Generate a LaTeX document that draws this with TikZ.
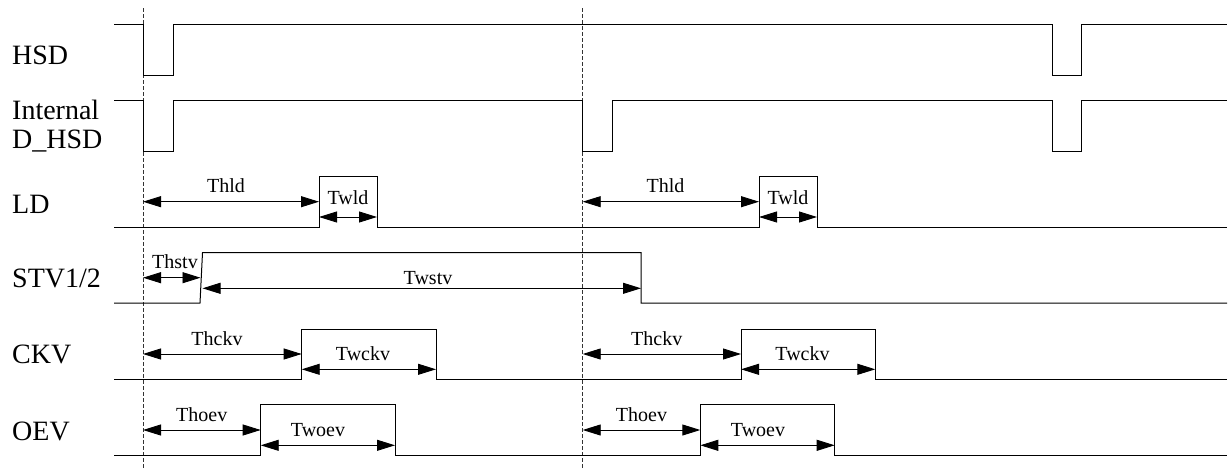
\documentclass[tikz,border=0pt]{standalone}
\usepackage{fontspec}
\setmainfont{Liberation Serif}
\usetikzlibrary{arrows.meta}

\begin{document}
\begin{tikzpicture}[
        x=1pt, y=-1pt,
        >={Triangle[length=18pt,width=11pt]},
        wave/.style={line width=1pt},
        guide/.style={line width=0.8pt, black!80, dash pattern=on 4pt off 2pt},
        dim/.style={<->, line width=0.9pt},
        siglabel/.style={anchor=base west, inner sep=0pt, font=\fontsize{28}{30}\selectfont},
        tlabel/.style={inner sep=0pt, font=\fontsize{20}{22}\selectfont}]

        \useasboundingbox (0,0) rectangle (1229,469);

        % signal names
        \node[siglabel] (hsd) at (12,64) {HSD};
        \node[siglabel] (int) at (12,119) {Internal};
        \node[siglabel] (dhsd) at (12,148) {D\_HSD};
        \node[siglabel] (ld) at (12,213) {LD};
        \node[siglabel] (stv) at (12,287) {STV1/2};
        \node[siglabel] (ckv) at (12,363) {CKV};
        \node[siglabel] (oev) at (12,440) {OEV};

        % reference lines
        \coordinate (t0) at (143,8);
        \coordinate (t1) at (582.7,8);
        \draw[guide] (t0) -- (143,469);
        \draw[guide] (t1) -- (582.7,469);

        % waveforms
        \draw[wave] (114,24) -- (143,24) -- (143,75) -- (173,75) -- (173,24) -- (1052,24)
            -- (1052,75) -- (1081,75) -- (1081,24) -- (1227,24);
        \draw[wave] (114,100) -- (143,100) -- (143,151) -- (173,151) -- (173,100) -- (582.7,100)
            -- (582.7,151) -- (612.5,151) -- (612.5,100) -- (1052,100) -- (1052,151)
            -- (1081,151) -- (1081,100) -- (1227,100);
        \draw[wave] (114,227) -- (319,227) -- (319,176) -- (377,176) -- (377,227) -- (759,227)
            -- (759,176) -- (817,176) -- (817,227) -- (1227,227);
        \draw[wave] (114,303) -- (200,303) -- (202.5,252.7) -- (641,252.7) -- (641,303) -- (1227,303);
        \draw[wave] (114,379) -- (301.7,379) -- (301.7,329) -- (436,329) -- (436,379) -- (741,379)
            -- (741,329) -- (875.3,329) -- (875.3,379) -- (1227,379);
        \draw[wave] (114,455) -- (260.7,455) -- (260.7,404.7) -- (395,404.7) -- (395,455) -- (700.3,455)
            -- (700.3,404.7) -- (834.7,404.7) -- (834.7,455) -- (1227,455);

        % arrow ends
        \coordinate (thld1a) at (143,201.7);   \coordinate (thld1b) at (319,201.7);
        \coordinate (twld1a) at (319,217);     \coordinate (twld1b) at (377,217);
        \coordinate (thld2a) at (582.7,201.7); \coordinate (thld2b) at (759,201.7);
        \coordinate (twld2a) at (759,217);     \coordinate (twld2b) at (817,217);
        \coordinate (thstva) at (143,277.7);   \coordinate (thstvb) at (200.5,277.7);
        \coordinate (twstva) at (202.5,288.3); \coordinate (twstvb) at (641,288.3);
        \coordinate (thckv1a) at (143,354);    \coordinate (thckv1b) at (301.7,354);
        \coordinate (twckv1a) at (301.7,369.3);\coordinate (twckv1b) at (436,369.3);
        \coordinate (thckv2a) at (582.7,354);  \coordinate (thckv2b) at (741,354);
        \coordinate (twckv2a) at (741,369.3);  \coordinate (twckv2b) at (875.3,369.3);
        \coordinate (thoev1a) at (143,430);    \coordinate (thoev1b) at (260.7,430);
        \coordinate (twoev1a) at (260.7,445.3);\coordinate (twoev1b) at (395,445.3);
        \coordinate (thoev2a) at (582.7,430);  \coordinate (thoev2b) at (700.3,430);
        \coordinate (twoev2a) at (700.3,445.3);\coordinate (twoev2b) at (834.7,445.3);

        \draw[dim] (thld1a) -- (thld1b);
        \draw[dim] (twld1a) -- (twld1b);
        \draw[dim] (thld2a) -- (thld2b);
        \draw[dim] (twld2a) -- (twld2b);
        \draw[dim] (thstva) -- (thstvb);
        \draw[dim] (twstva) -- (twstvb);
        \draw[dim] (thckv1a) -- (thckv1b);
        \draw[dim] (twckv1a) -- (twckv1b);
        \draw[dim] (thckv2a) -- (thckv2b);
        \draw[dim] (twckv2a) -- (twckv2b);
        \draw[dim] (thoev1a) -- (thoev1b);
        \draw[dim] (twoev1a) -- (twoev1b);
        \draw[dim] (thoev2a) -- (thoev2b);
        \draw[dim] (twoev2a) -- (twoev2b);

        % timing labels
        \node[tlabel] (lthld1) at (226,186) {Thld};
        \node[tlabel] (ltwld1) at (348,198) {Twld};
        \node[tlabel] (lthld2) at (665.5,186) {Thld};
        \node[tlabel] (ltwld2) at (788,198) {Twld};
        \node[tlabel] (lthstv) at (175,262) {Thstv};
        \node[tlabel] (ltwstv) at (428,278) {Twstv};
        \node[tlabel] (lthckv1) at (217,338.5) {Thckv};
        \node[tlabel] (ltwckv1) at (363,353.5) {Twckv};
        \node[tlabel] (lthckv2) at (656.7,338.5) {Thckv};
        \node[tlabel] (ltwckv2) at (802.5,353.5) {Twckv};
        \node[tlabel] (lthoev1) at (201.7,414.5) {Thoev};
        \node[tlabel] (ltwoev1) at (318,430) {Twoev};
        \node[tlabel] (lthoev2) at (641.5,414.5) {Thoev};
        \node[tlabel] (ltwoev2) at (758,430) {Twoev};

    \end{tikzpicture}
\end{document}
